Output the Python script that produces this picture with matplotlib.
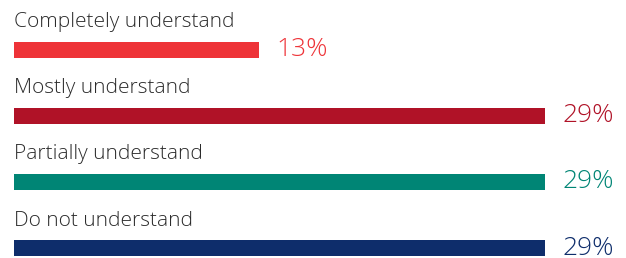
import matplotlib
matplotlib.use("Agg")
import matplotlib.pyplot as plt

# data
categories = ["Completely understand", "Mostly understand", "Partially understand", "Do not understand"]
values = [13.4, 29, 29, 29]
value_labels = ["13%", "29%", "29%", "29%"]
colors = ["#EE3338", "#B01227", "#008575", "#0E2D6B"]

fig = plt.figure(figsize=(6.26, 2.58), dpi=100)
ax = fig.add_axes([0, 0, 1, 1])

px_x = 531 / 29.0   # pixels per percent
px_y = 66.2         # pixels per row
left = 14
ax.set_xlim(-left / px_x, (626 - left) / px_x)
ax.set_ylim((258 - 49.5) / px_y, -49.5 / px_y)

rows = range(len(categories))
ax.barh(rows, values, height=16 / px_y, color=colors, left=0)

for i, (cat, v, lab, c) in enumerate(zip(categories, values, value_labels, colors)):
    ax.text(0, i - 22.5 / px_y, cat, fontsize=15, color="#2b2b2b",
            family="Open Sans", fontweight="light", va="baseline", ha="left")
    ax.text(v + 17 / px_x, i + 6.5 / px_y, lab, fontsize=19, color=c,
            family="Open Sans", fontweight="light", va="baseline", ha="left")

ax.axis("off")
fig.savefig("out.png", dpi=100)
